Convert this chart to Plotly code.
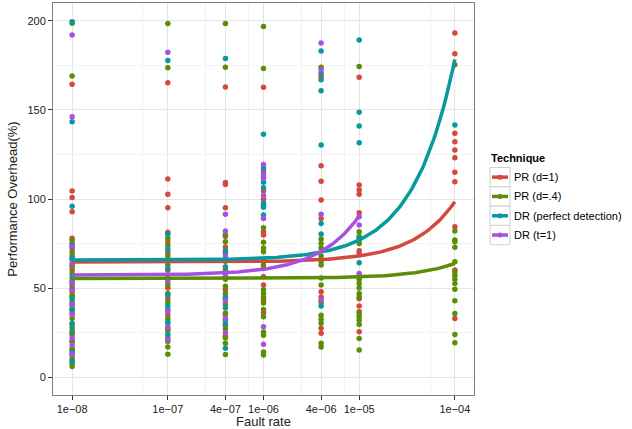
import numpy as np
import plotly.graph_objects as go

# ---------------- data ----------------
fault_rates = [1e-8, 1e-7, 4e-7, 1e-6, 4e-6, 1e-5, 1e-4]
tick_labels = ["1e\u221208", "1e\u221207", "4e\u221207", "1e\u221206", "4e\u221206", "1e\u221205", "1e\u221204"]
minor_x = [5.5e-8, 2.5e-7, 7e-7, 2.5e-6, 7e-6, 5.5e-5]

techniques = ["PR (d=1)", "PR (d=.4)", "DR (perfect detection)", "DR (t=1)"]
colors = ["#D4493D", "#5B8E07", "#07999F", "#A552E4"]

# overhead (%) observed at each fault rate (one list per fault rate)
pr1_overhead = [
    [164.4, 104.5, 100.8, 92.9, 78, 75, 72, 68, 63, 60, 52, 48, 45, 40, 36, 30, 25, 20, 15, 10],
    [165.2, 111.2, 102.6, 95.1, 81.3, 76, 70, 60, 50, 44, 35, 27, 22],
    [162.9, 109.3, 108.2, 95.1, 79, 73, 66, 59, 49, 44, 35, 29, 23],
    [162.7, 115.7, 104.5, 99.8, 81.6, 79.8, 56.3, 51.7, 43.3, 36],
    [168.9, 118.7, 109.9, 99.4, 89, 48, 45, 27.5, 24.7],
    [168.3, 107.9, 105.1, 102.6, 92.3, 71, 69.4, 44, 40, 36.7, 25.5],
    [193.1, 181.5, 136.9, 132.2, 127.5, 123.2, 115, 109.7, 84.4, 60.1, 33],
]
pr04_overhead = [
    [198.7, 169, 77, 70, 66, 62, 58, 54, 50, 46, 42, 38, 33, 28, 24, 20, 16, 12, 8, 6],
    [198.5, 173.6, 78, 74, 68, 63, 57, 52, 47, 42, 38, 33, 30, 26, 20, 17, 12.9],
    [198.5, 174, 80, 76, 70, 65, 60, 55, 51, 47, 41, 36, 32, 27, 22, 19, 12.7],
    [196.8, 173.2, 83.9, 75.7, 72.5, 70.4, 66, 63, 61, 49, 47, 45, 41.6, 38, 33.9, 25.4, 23.6, 14.2, 12.4],
    [174, 77.5, 75, 72.5, 68, 65, 62.9, 55.6, 51.7, 42, 34.8, 32.5, 30.2, 19, 17],
    [174.3, 81.6, 79, 77, 75, 55, 52.6, 50, 47, 45, 36, 34, 32, 29.5, 21.7, 15.2],
    [175.3, 82, 77, 76, 72.9, 64.8, 59.2, 57, 55, 52.6, 49.3, 42.9, 35.8, 24, 19.3],
]
drp_overhead = [
    [199.5, 143.4, 96, 74, 67, 56, 44, 38, 30, 26, 14, 9],
    [177.7, 80.2, 72, 61, 46, 40, 31, 24],
    [178.8, 71, 62, 45, 39, 30, 16.3],
    [136.3, 117.2, 109.4, 106.3, 97.6, 96.6, 95.3, 91],
    [183, 170.6, 166.9, 160.8, 130.3, 86.3, 80.3, 39.9],
    [189.3, 148.7, 141, 131.6, 77.9, 64.2],
    [141.6],
]
drt_overhead = [
    [192, 146.2, 73, 64, 53, 49, 41, 35, 22, 18, 13],
    [182.4, 65, 54, 37, 28, 21],
    [91.4, 82, 68, 57, 43, 33, 25],
    [119.3, 114, 112.5, 111.6, 101.9, 89.1, 28.3, 18.5],
    [187.6, 172.5, 91.4, 43.3],
    [90, 85.4, 58.2],
    [],
]
overheads = [pr1_overhead, pr04_overhead, drp_overhead, drt_overhead]

# linear fit (overhead = intercept + slope * fault rate) per technique
fit_intercept = [64.6, 55.4, 65.7, 57.3]
fit_slope = [3.39e5, 8.4e4, 1.127e6, 3.31e6]
fit_max_rate = [1e-4, 1e-4, 1e-4, 1e-5]

# ---------------- layout geometry (pixels) ----------------
W, H = 632, 429
ML, MR, MT, MB = 53, 158, 3, 34
PW, PH = W - ML - MR, H - MT - MB


def px(x):
    return (x - ML) / PW


def py(y):
    return (H - MB - y) / PH


# ---------------- figure ----------------
fig = go.Figure()

for name, col, ov in zip(techniques, colors, overheads):
    xs, ys = [], []
    for fr, vals in zip(fault_rates, ov):
        xs += [fr] * len(vals)
        ys += vals
    fig.add_trace(go.Scatter(x=xs, y=ys, mode="markers", name=name, showlegend=False,
                             marker=dict(color=col, size=5.5, line=dict(width=0))))

for name, col, a, b, xmax in zip(techniques, colors, fit_intercept, fit_slope, fit_max_rate):
    xg = np.logspace(np.log10(fault_rates[0]), np.log10(xmax), 200)
    fig.add_trace(go.Scatter(x=xg, y=a + b * xg, mode="lines", name=name, showlegend=False,
                             line=dict(color=col, width=3.5)))

# ---------------- legend (ggplot style) ----------------
shapes = []
annotations = [dict(text="<b>Technique</b>", xref="paper", yref="paper",
                    x=px(489), y=py(158), xanchor="left", yanchor="middle",
                    showarrow=False, font=dict(size=11, color="#000"))]
key_top, key_h = 167.5, 19.3
for i, (name, col) in enumerate(zip(techniques, colors)):
    y0 = key_top + i * key_h
    yc = y0 + key_h / 2
    shapes.append(dict(type="rect", xref="paper", yref="paper",
                       x0=px(490), x1=px(510), y0=py(y0), y1=py(y0 + key_h),
                       line=dict(color="#D0D0D0", width=1), fillcolor="white", layer="above"))
    shapes.append(dict(type="line", xref="paper", yref="paper",
                       x0=px(492), x1=px(508), y0=py(yc), y1=py(yc),
                       line=dict(color=col, width=3.5), layer="above"))
    shapes.append(dict(type="circle", xref="paper", yref="paper",
                       x0=px(497.5), x1=px(502.5), y0=py(yc - 2.5), y1=py(yc + 2.5),
                       line=dict(width=0), fillcolor=col, layer="above"))
    annotations.append(dict(text=name, xref="paper", yref="paper",
                            x=px(512), y=py(yc), xanchor="left", yanchor="middle",
                            showarrow=False, font=dict(size=11, color="#000")))

fig.update_layout(
    width=W, height=H,
    margin=dict(l=ML, r=MR, t=MT, b=MB, autoexpand=False),
    paper_bgcolor="white", plot_bgcolor="white",
    font=dict(family="Liberation Sans, Arial, sans-serif", size=11, color="#222"),
    showlegend=False,
    shapes=shapes, annotations=annotations,
)

fig.update_xaxes(
    type="log", range=[-8.2, -3.8],
    tickmode="array", tickvals=fault_rates, ticktext=tick_labels,
    ticks="outside", ticklen=4, tickcolor="#333", tickfont=dict(size=11, color="#222"),
    showgrid=True, gridcolor="#E5E5E5", gridwidth=1,
    minor=dict(tickmode="array", tickvals=minor_x, showgrid=True, gridcolor="#F3F3F3", ticks=""),
    showline=True, linecolor="#7F7F7F", linewidth=1, mirror=True, zeroline=False,
    title=dict(text="Fault rate", font=dict(size=13), standoff=2),
)
fig.update_yaxes(
    range=[-10, 210],
    tickmode="array", tickvals=[0, 50, 100, 150, 200],
    ticks="outside", ticklen=4, tickcolor="#333", tickfont=dict(size=11, color="#222"),
    showgrid=True, gridcolor="#E5E5E5", gridwidth=1,
    minor=dict(tickmode="array", tickvals=[25, 75, 125, 175], showgrid=True, gridcolor="#F3F3F3", ticks=""),
    showline=True, linecolor="#7F7F7F", linewidth=1, mirror=True, zeroline=False,
    title=dict(text="Performance Overhead(%)", font=dict(size=13), standoff=6),
)

fig.write_html("out.html", config={"displayModeBar": False},
               post_script="document.body.style.margin='0';")
